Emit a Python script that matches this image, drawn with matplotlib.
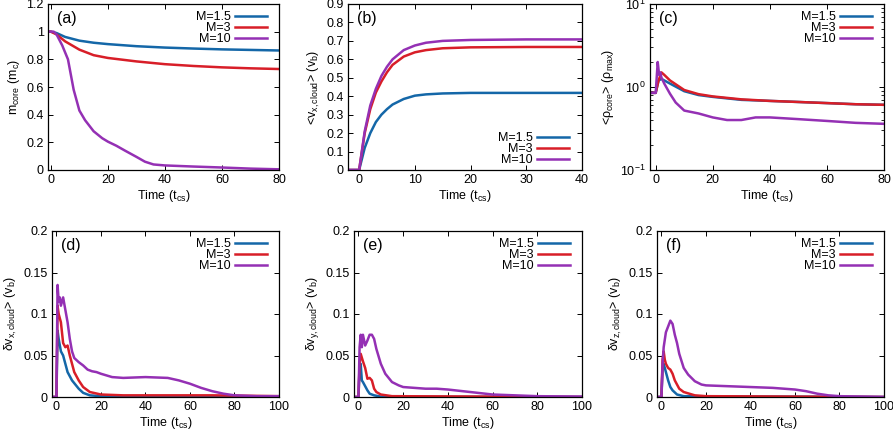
import matplotlib
matplotlib.use("Agg")
import matplotlib.pyplot as plt
import numpy as np

plt.rcParams['font.family'] = ['Liberation Sans', 'DejaVu Sans']
plt.rcParams['mathtext.fontset'] = 'custom'
plt.rcParams['mathtext.rm'] = 'Liberation Sans'
plt.rcParams['mathtext.it'] = 'Liberation Sans'
plt.rcParams['mathtext.default'] = 'rm'

labels = ["M=1.5", "M=3", "M=10"]
colors = ["#1467a8", "#d81e28", "#9430b4"]

# (a) core mass
a_t = [[-1, 0, 2, 5, 10, 15, 20, 30, 40, 50, 60, 70, 80],
       [-1, 0, 2, 5, 10, 15, 20, 30, 40, 50, 60, 70, 80],
       [-1, 0, 1, 2, 4, 6, 8, 10, 12, 15, 18, 20, 23, 26, 30, 33, 36, 40, 50, 60, 70, 80]]
a_y = [[1.0, 1.0, 0.99, 0.962, 0.935, 0.92, 0.91, 0.895, 0.885, 0.878, 0.872, 0.868, 0.864],
       [1.0, 1.0, 0.98, 0.93, 0.87, 0.83, 0.81, 0.785, 0.765, 0.752, 0.742, 0.735, 0.73],
       [1.0, 1.0, 1.0, 0.98, 0.9, 0.8, 0.58, 0.43, 0.36, 0.28, 0.23, 0.205, 0.175, 0.14, 0.095, 0.06, 0.04, 0.033, 0.025, 0.018, 0.01, 0.005]]

# (b) mean x velocity
b_t = [-2, -0.5, 0, 1, 2, 3, 4, 5, 6, 8, 10, 12, 15, 20, 30, 40]
b_y = [[0, 0, 0, 0.12, 0.2, 0.26, 0.3, 0.33, 0.355, 0.385, 0.403, 0.41, 0.415, 0.418, 0.418, 0.418],
       [0, 0, 0, 0.2, 0.33, 0.42, 0.48, 0.53, 0.57, 0.615, 0.638, 0.65, 0.66, 0.665, 0.667, 0.667],
       [0, 0, 0, 0.21, 0.35, 0.44, 0.51, 0.56, 0.6, 0.65, 0.675, 0.69, 0.7, 0.705, 0.708, 0.708]]

# (c) mean core density
c_t = [[-2, 0, 1, 2, 3, 5, 10, 15, 20, 30, 40, 50, 60, 70, 80],
       [-2, 0, 1, 2, 3, 5, 10, 15, 20, 30, 40, 50, 60, 70, 80],
       [-2, 0, 0.7, 1.2, 1.6, 2, 3, 5, 7, 10, 15, 20, 25, 30, 35, 40, 50, 60, 70, 80]]
c_y = [[0.85, 0.85, 1.2, 1.25, 1.2, 1.1, 0.89, 0.8, 0.76, 0.7, 0.68, 0.66, 0.64, 0.62, 0.61],
       [0.85, 0.85, 1.2, 1.5, 1.4, 1.2, 0.92, 0.82, 0.77, 0.71, 0.68, 0.66, 0.64, 0.62, 0.61],
       [0.85, 0.85, 2.0, 1.4, 1.5, 1.3, 1.1, 0.83, 0.65, 0.52, 0.48, 0.43, 0.40, 0.40, 0.43, 0.43, 0.41, 0.39, 0.37, 0.36]]

# (d) x velocity dispersion
d_t = [[-2, 0, 0.5, 1, 2, 3, 4, 5, 7, 10, 12, 15, 20, 40, 60, 80, 100],
       [-2, 0, 0.5, 1, 2, 3, 4, 5, 6, 8, 10, 12, 15, 20, 30, 50, 70, 100],
       [-2, 0, 0.5, 1, 1.5, 2, 3, 4, 5, 6, 7, 8, 10, 12, 14, 16, 18, 20, 25, 30, 40, 50, 55, 60, 65, 70, 75, 80, 90, 100]]
d_y = [[0, 0, 0.08, 0.07, 0.055, 0.05, 0.04, 0.03, 0.02, 0.01, 0.005, 0.002, 0.001, 0.001, 0.001, 0.001, 0.0005],
       [0, 0, 0.11, 0.1, 0.09, 0.065, 0.06, 0.062, 0.05, 0.03, 0.02, 0.012, 0.006, 0.003, 0.002, 0.002, 0.002, 0.001],
       [0, 0, 0.135, 0.115, 0.12, 0.11, 0.12, 0.105, 0.09, 0.07, 0.055, 0.047, 0.042, 0.038, 0.033, 0.031, 0.03, 0.028, 0.024, 0.023, 0.024, 0.023, 0.02, 0.016, 0.011, 0.007, 0.004, 0.002, 0.001, 0.001]]

# (e) y velocity dispersion
e_t = [[-2, 0, 0.5, 1, 1.5, 2, 3, 4, 5, 7, 10, 20, 100],
       [-2, 0, 0.5, 1, 2, 3, 4, 5, 6, 7, 8, 10, 15, 100],
       [-2, 0, 0.5, 1, 1.5, 2, 3, 4, 5, 6, 7, 8, 10, 12, 15, 18, 20, 25, 30, 35, 40, 50, 60, 70, 80, 100]]
e_y = [[0, 0, 0.035, 0.04, 0.02, 0.018, 0.013, 0.008, 0.004, 0.002, 0.0005, 0.0003, 0.0],
       [0, 0, 0.04, 0.052, 0.043, 0.035, 0.022, 0.023, 0.02, 0.01, 0.006, 0.003, 0.001, 0.0],
       [0, 0, 0.06, 0.075, 0.06, 0.075, 0.062, 0.068, 0.075, 0.075, 0.07, 0.058, 0.04, 0.028, 0.018, 0.014, 0.012, 0.011, 0.01, 0.01, 0.009, 0.006, 0.003, 0.002, 0.001, 0.0005]]

# (f) z velocity dispersion
f_t = [[-2, 0, 0.5, 1, 2, 3, 4, 5, 7, 10, 100],
       [-2, 0, 0.5, 1, 1.5, 2, 3, 4, 5, 6, 8, 10, 15, 20, 100],
       [-2, 0, 0.5, 1, 2, 3, 4, 5, 6, 7, 8, 10, 12, 15, 18, 20, 30, 40, 50, 60, 65, 70, 75, 80, 100]]
f_y = [[0, 0, 0.035, 0.04, 0.03, 0.02, 0.012, 0.008, 0.003, 0.001, 0.0],
       [0, 0, 0.045, 0.055, 0.045, 0.04, 0.035, 0.033, 0.028, 0.02, 0.01, 0.006, 0.002, 0.001, 0.0],
       [0, 0, 0.04, 0.06, 0.078, 0.085, 0.092, 0.088, 0.075, 0.065, 0.052, 0.035, 0.027, 0.019, 0.015, 0.014, 0.013, 0.012, 0.011, 0.009, 0.007, 0.004, 0.002, 0.001, 0.0]]

W, H = 893, 430
fig = plt.figure(figsize=(W / 100, H / 100), dpi=100)

def ax_at(l, t, r, b):
    return fig.add_axes([l / W, 1 - b / H, (r - l) / W, (b - t) / H])

FS = 9

def style(ax, letter, ylabel, xlim, ylim, xticks, yticks, wpx, hpx, legloc="upper right", log=False):
    ax.set_xlim(*xlim)
    if log:
        ax.set_yscale("log")
    ax.set_ylim(*ylim)
    ax.set_xticks(xticks)
    ax.set_xticklabels([str(v) for v in xticks])
    if not log:
        ax.set_yticks(yticks)
        ax.set_yticklabels([("%g" % v) for v in yticks])
    ax.tick_params(direction="in", top=True, right=True, labelsize=FS, length=3.5, width=0.7, pad=3)
    ax.tick_params(which="minor", direction="in", top=True, right=True, length=2, width=0.6)
    for s in ax.spines.values():
        s.set_linewidth(0.9)
    ax.set_xlabel(r"Time (t$_{\mathrm{cs}}$)", fontsize=FS, labelpad=1.5)
    ax.set_ylabel(ylabel, fontsize=FS, labelpad=3)
    ax.text(0.04, 0.955, letter, transform=ax.transAxes, fontsize=11.5, va="top", ha="left")
    if legloc == "upper right":
        anchor = (1 - 12 / wpx, 1 - 7 / hpx)
    else:
        anchor = (1 - 13 / wpx, 4 / hpx)
    ax.legend(loc=legloc, bbox_to_anchor=anchor, frameon=False, markerfirst=False, fontsize=FS,
              handlelength=2.6, handletextpad=0.3, labelspacing=-0.08,
              borderaxespad=0, borderpad=0)

# (a)
ax = ax_at(48, 4, 279, 170)
for i in range(3):
    ax.plot(a_t[i], a_y[i], color=colors[i], lw=1.8, label=labels[i])
style(ax, "(a)", r"m$_{\mathrm{core}}$ (m$_{\mathrm{c}}$)", (-1, 80), (0, 1.2),
      [0, 20, 40, 60, 80], [0, 0.2, 0.4, 0.6, 0.8, 1.0, 1.2], 231, 166)

# (b)
ax = ax_at(348, 4, 582, 170)
for i in range(3):
    ax.plot(b_t, b_y[i], color=colors[i], lw=1.8, label=labels[i])
style(ax, "(b)", r"<v$_{\mathrm{x,cloud}}$> (v$_{\mathrm{b}}$)", (-2, 40), (0, 0.9),
      [0, 10, 20, 30, 40], [0, 0.1, 0.2, 0.3, 0.4, 0.5, 0.6, 0.7, 0.8, 0.9], 234, 166,
      legloc="lower right")

# (c)
ax = ax_at(650, 4, 884, 170)
for i in range(3):
    ax.plot(c_t[i], c_y[i], color=colors[i], lw=1.8, label=labels[i])
style(ax, "(c)", r"<ρ$_{\mathrm{core}}$> (ρ$_{\mathrm{max}}$)", (-2, 80), (0.1, 10),
      [0, 20, 40, 60, 80], None, 234, 166, log=True)
ax.set_yticks([0.1, 1, 10])
ax.set_yticklabels([r"10$^{-1}$", r"10$^{0}$", r"10$^{1}$"])

# bottom row
bottom = [((52, 231, 279, 397), "(d)", "x", d_t, d_y),
          ((354, 231, 582, 397), "(e)", "y", e_t, e_y),
          ((657, 231, 884, 397), "(f)", "z", f_t, f_y)]
for box, letter, comp, tt, yy in bottom:
    ax = ax_at(*box)
    for i in range(3):
        ax.plot(tt[i], yy[i], color=colors[i], lw=1.8, label=labels[i])
    style(ax, letter, r"δv$_{\mathrm{%s,cloud}}$> (v$_{\mathrm{b}}$)" % comp, (-2, 100), (0, 0.2),
          [0, 20, 40, 60, 80, 100], [0, 0.05, 0.1, 0.15, 0.2], box[2] - box[0], box[3] - box[1])

fig.savefig("out.png", dpi=100)
